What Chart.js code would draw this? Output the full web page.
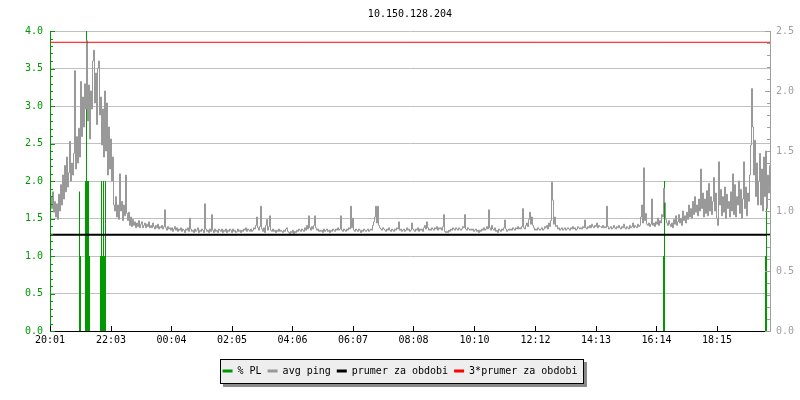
<!DOCTYPE html>
<html>
<head>
<meta charset="utf-8">
<script src="https://cdn.jsdelivr.net/npm/chart.js@4/dist/chart.umd.min.js"></script>
<style>
  html, body { margin: 0; padding: 0; background: #ffffff; }
  #wrap { width: 800px; height: 400px; }
</style>
</head>
<body>
<div id="wrap"><canvas id="c" width="800" height="400"></canvas></div>
<script>
// ---------------- DATA ----------------
const chartTitle = '10.150.128.204';
const seriesNames = ['% PL', 'avg ping', 'prumer za obdobi', '3*prumer za obdobi'];

// x axis: minutes since 20:01, tick labels
const timeLabels = ['20:01', '22:03', '00:04', '02:05', '04:06', '06:07', '08:08', '10:10', '12:12', '14:13', '16:14', '18:15'];
const tickMinutes = [0, 122, 243, 364, 485, 606, 727, 849, 971, 1092, 1213, 1334];
const periodMinutes = 1440;

// left axis (% PL) and right axis (avg ping, ms)
const plAxisMax = 4;
const pingAxisMax = 2.5;

// packet loss (%), stepped series: value holds from each minute mark until the next
const plMinutes = [0, 58, 60, 62, 70, 72, 74, 78, 80, 100, 102, 104, 106, 108, 110, 112, 1226, 1228, 1230, 1430, 1432, 1434, 1440];
const plPercent = [0, 1.86, 1.0, 0, 2.0, 5.0, 2.0, 1.0, 0, 1.0, 2.0, 1.0, 2.0, 1.0, 2.0, 0, 1.0, 2.0, 0, 1.0, 1.72, 0, 0];

// avg ping (ms), one sample every 2 minutes
const pingStepMinutes = 2;
const pingAvgMs = [
  1.12, 1.02, 1.16, 0.99, 1.08, 0.95, 1.06, 0.93, 1.14, 1.00,
  1.22, 1.05, 1.30, 1.10, 1.38, 1.16, 1.45, 1.20, 1.32, 1.58,
  1.25, 1.40, 1.30, 1.48, 2.17, 1.35, 1.62, 1.40, 1.69, 1.45,
  2.08, 1.62, 1.95, 1.70, 2.06, 1.85, 2.42, 1.75, 2.05, 1.60,
  2.00, 1.85, 2.25, 2.34, 1.90, 2.15, 1.72, 2.19, 2.25, 1.80,
  1.95, 1.55, 1.85, 1.45, 2.00, 1.50, 1.90, 1.30, 1.70, 1.35,
  1.60, 1.25, 1.45, 1.05, 1.00, 1.12, 0.95, 1.05, 0.93, 1.31,
  1.00, 1.08, 0.92, 1.05, 0.96, 1.30, 0.98, 0.92, 0.99, 0.88,
  0.95, 0.87, 0.93, 0.88, 0.91, 0.86, 0.90, 0.87, 0.92, 0.86,
  0.89, 0.91, 0.86, 0.88, 0.90, 0.86, 0.89, 0.87, 0.91, 0.86,
  0.88, 0.86, 0.90, 0.87, 0.85, 0.88, 0.86, 0.89, 0.85, 0.87,
  0.86, 0.88, 0.85, 0.87, 1.01, 0.86, 0.84, 0.87, 0.85, 0.86,
  0.84, 0.86, 0.83, 0.85, 0.87, 0.84, 0.86, 0.83, 0.85, 0.84,
  0.86, 0.83, 0.85, 0.84, 0.82, 0.85, 0.84, 0.86, 0.83, 0.94,
  0.85, 0.83, 0.84, 0.82, 0.85, 0.83, 0.84, 0.86, 0.82, 0.84,
  0.83, 0.85, 0.84, 0.82, 1.06, 0.85, 0.83, 0.84, 0.82, 0.85,
  0.83, 0.97, 0.84, 0.82, 0.85, 0.83, 0.84, 0.82, 0.85, 0.84,
  0.83, 0.85, 0.82, 0.84, 0.83, 0.85, 0.82, 0.84, 0.83, 0.85,
  0.84, 0.82, 0.85, 0.83, 0.84, 0.82, 0.83, 0.85, 0.83, 0.84,
  0.82, 0.84, 0.83, 0.85, 0.84, 0.86, 0.83, 0.85, 0.84, 0.83,
  0.85, 0.83, 0.84, 0.86, 0.85, 0.88, 0.95, 0.86, 0.84, 0.87,
  1.04, 0.85, 0.83, 0.86, 0.82, 0.88, 0.93, 0.84, 0.87, 0.96,
  0.84, 0.83, 0.85, 0.83, 0.84, 0.82, 0.84, 0.83, 0.85, 0.83,
  0.84, 0.83, 0.82, 0.84, 0.83, 0.85, 0.86, 0.83, 0.82, 0.81,
  0.83, 0.82, 0.84, 0.81, 0.83, 0.82, 0.84, 0.83, 0.85, 0.84,
  0.83, 0.85, 0.84, 0.83, 0.86, 0.84, 0.88, 0.85, 0.96, 0.86,
  0.84, 0.87, 0.85, 0.88, 0.96, 0.86, 0.84, 0.85, 0.83, 0.84,
  0.83, 0.84, 0.82, 0.85, 0.83, 0.84, 0.85, 0.83, 0.84, 0.82,
  0.84, 0.83, 0.85, 0.84, 0.83, 0.85, 0.84, 0.86, 0.84, 0.85,
  0.96, 0.84, 0.83, 0.85, 0.84, 0.83, 0.85, 0.84, 0.86, 0.85,
  1.04, 0.86, 0.94, 0.84, 0.83, 0.85, 0.84, 0.83, 0.85, 0.84,
  0.82, 0.84, 0.83, 0.85, 0.84, 0.83, 0.84, 0.85, 0.83, 0.84,
  0.85, 0.84, 0.88, 0.91, 0.95, 1.04, 0.90, 1.04, 0.88, 0.86,
  0.85, 0.84, 0.86, 0.85, 0.84, 0.83, 0.85, 0.84, 0.86, 0.84,
  0.83, 0.85, 0.84, 0.83, 0.85, 0.84, 0.86, 0.85, 0.91, 0.84,
  0.85, 0.83, 0.84, 0.85, 0.83, 0.84, 0.86, 0.84, 0.85, 0.83,
  0.84, 0.90, 0.85, 0.84, 0.83, 0.85, 0.84, 0.86, 0.83, 0.85,
  0.84, 0.85, 0.83, 0.86, 0.88, 0.85, 0.91, 0.86, 0.84, 0.85,
  0.84, 0.86, 0.85, 0.84, 0.86, 0.85, 0.87, 0.84, 0.86, 0.85,
  0.86, 0.84, 0.87, 0.97, 0.83, 0.82, 0.83, 0.82, 0.84, 0.83,
  0.85, 0.84, 0.86, 0.85, 0.84, 0.86, 0.85, 0.84, 0.86, 0.85,
  0.84, 0.85, 0.87, 0.86, 0.97, 0.85, 0.84, 0.86, 0.85, 0.84,
  0.85, 0.84, 0.85, 0.83, 0.84, 0.85, 0.83, 0.84, 0.82, 0.84,
  0.83, 0.85, 0.84, 0.86, 0.84, 0.85, 0.87, 0.85, 1.01, 0.86,
  0.84, 0.88, 0.85, 0.84, 0.86, 0.83, 0.84, 0.82, 0.85, 0.84,
  0.83, 0.85, 0.84, 0.86, 0.925, 0.85, 0.83, 0.84, 0.85, 0.84,
  0.85, 0.84, 0.86, 0.85, 0.84, 0.86, 0.85, 0.87, 0.85, 0.86,
  0.85, 0.87, 1.02, 0.86, 0.85, 0.88, 0.90, 0.87, 0.93, 0.99,
  0.89, 0.95, 0.88, 0.86, 0.84, 0.85, 0.84, 0.86, 0.85, 0.84,
  0.85, 0.86, 0.84, 0.85, 0.87, 0.86, 0.88, 0.85, 0.90, 0.87,
  0.92, 1.24, 1.09, 0.89, 0.95, 0.87, 0.88, 0.85, 0.86, 0.84,
  0.85, 0.86, 0.84, 0.85, 0.86, 0.84, 0.85, 0.86, 0.85, 0.84,
  0.86, 0.85, 0.87, 0.85, 0.86, 0.84, 0.85, 0.87, 0.86, 0.85,
  0.86, 0.85, 0.87, 0.86, 0.925, 0.86, 0.85, 0.87, 0.86, 0.88,
  0.86, 0.89, 0.87, 0.86, 0.88, 0.87, 0.90, 0.86, 0.88, 0.87,
  0.87, 0.86, 0.88, 0.86, 0.87, 0.86, 1.04, 0.87, 0.85, 0.86,
  0.87, 0.85, 0.86, 0.88, 0.86, 0.85, 0.87, 0.86, 0.88, 0.86,
  0.85, 0.87, 0.86, 0.89, 0.86, 0.85, 0.87, 0.86, 0.85, 0.88,
  0.86, 0.87, 0.90, 0.86, 0.88, 0.87, 0.86, 0.89, 0.87, 0.88,
  0.95, 1.05, 0.90, 1.36, 0.92, 0.98, 0.89, 0.88, 0.90, 0.87,
  0.89, 1.10, 0.88, 0.90, 0.87, 0.91, 0.89, 0.94, 0.88, 0.92,
  0.90, 0.97, 0.95, 1.19, 1.07, 0.93, 0.90, 0.88, 0.92, 0.89,
  0.87, 0.90, 0.86, 0.93, 0.89, 0.96, 0.88, 0.91, 0.97, 0.90,
  0.94, 0.88, 1.00, 0.92, 0.96, 0.90, 0.99, 0.93, 1.05, 0.95,
  1.02, 0.94, 1.08, 0.97, 1.12, 0.99, 1.05, 0.96, 1.10, 1.00,
  1.35, 1.02, 1.15, 0.95, 1.10, 0.98, 1.17, 0.96, 1.23, 1.00,
  1.12, 0.97, 1.08, 1.28, 1.00, 1.15, 0.94, 0.88, 1.41, 1.05,
  1.18, 0.96, 1.12, 0.99, 1.20, 0.94, 1.14, 1.02, 1.08, 0.95,
  1.16, 1.00, 1.31, 0.97, 1.22, 0.95, 1.12, 1.05, 1.25, 0.98,
  1.18, 0.94, 1.10, 1.41, 1.02, 1.20, 0.96, 1.15, 1.08, 1.30,
  1.55, 2.02, 1.70, 1.30, 1.59, 1.12, 1.40, 1.05, 1.25, 1.48,
  1.05, 1.35, 1.00, 1.45, 1.12, 1.50, 1.02, 1.30, 1.15, 1.38
];

// period mean and 3x mean (ms)
const meanPingMs = 0.802;
const tripleMeanPingMs = 2.406;

// ---------------- STYLE ----------------
const COL = {
  pl: '#009900',
  plAxis: '#009900',
  ping: '#999999',
  pingAxis: '#a0a0a0',
  mean: '#000000',
  triple: '#ff0000',
  grid: '#c0c0c0'
};
const legendColors = [COL.pl, COL.ping, COL.mean, COL.triple];

Chart.defaults.font.family = "'DejaVu Sans Mono', 'Liberation Mono', monospace";
Chart.defaults.font.size = 10;
Chart.defaults.color = '#000000';

// ---------------- BUILD ----------------
const plPoints = plMinutes.map((m, i) => ({ x: m, y: plPercent[i] }));
const pingPoints = pingAvgMs.map((v, i) => ({ x: i * pingStepMinutes + pingStepMinutes / 2, y: v }));
const meanPoints = [{ x: 0, y: meanPingMs }, { x: periodMinutes, y: meanPingMs }];
const triplePoints = [{ x: 0, y: tripleMeanPingMs }, { x: periodMinutes, y: tripleMeanPingMs }];

const axisTicks = {
  id: 'axisTicks',
  afterDatasetsDraw(chart) {
    const { ctx, chartArea: a, scales } = chart;
    ctx.save();
    ctx.lineWidth = 1;
    // left axis ticks (inward)
    ctx.strokeStyle = COL.plAxis;
    ctx.beginPath();
    for (let k = 0; k <= plAxisMax * 10; k++) {
      const y = Math.round(scales.yPL.getPixelForValue(k / 10)) + 0.5;
      const len = (k % 5 === 0) ? 5 : 3;
      ctx.moveTo(a.left, y); ctx.lineTo(a.left + len, y);
    }
    ctx.stroke();
    // right axis ticks (inward)
    ctx.strokeStyle = COL.pingAxis;
    ctx.beginPath();
    for (let k = 0; k <= pingAxisMax * 10; k++) {
      const y = Math.round(scales.yPing.getPixelForValue(k / 10)) + 0.5;
      const len = (k % 5 === 0) ? 5 : 3;
      ctx.moveTo(a.right, y); ctx.lineTo(a.right - len, y);
    }
    ctx.stroke();
    // x axis ticks (upward)
    ctx.strokeStyle = '#000000';
    ctx.beginPath();
    tickMinutes.forEach(m => {
      const x = Math.floor(scales.x.getPixelForValue(m)) + 0.5;
      ctx.moveTo(x, a.bottom); ctx.lineTo(x, a.bottom - 5);
    });
    ctx.stroke();
    ctx.restore();
  }
};

const legendFrame = {
  id: 'legendFrame',
  beforeDraw(chart) {
    const lg = chart.legend;
    if (!lg || !lg.legendHitBoxes || !lg.legendHitBoxes.length) return;
    const hb = lg.legendHitBoxes;
    const last = hb[hb.length - 1];
    const l = Math.round(hb[0].left) - 3;
    const r = Math.round(last.left + last.width) + 6;
    const t = Math.round(hb[0].top) - 7;
    const b = Math.round(hb[0].top) + 17;
    const ctx = chart.ctx;
    ctx.save();
    ctx.fillStyle = '#8a8a8a';
    ctx.fillRect(l + 3, t + 3, r - l + 1, b - t + 1);
    ctx.fillStyle = '#eeeeee';
    ctx.fillRect(l, t, r - l, b - t);
    ctx.strokeStyle = '#000000';
    ctx.lineWidth = 1;
    ctx.strokeRect(l + 0.5, t + 0.5, r - l, b - t);
    ctx.restore();
  }
};

new Chart(document.getElementById('c'), {
  type: 'line',
  data: {
    datasets: [
      {
        label: seriesNames[0], data: plPoints, yAxisID: 'yPL',
        stepped: true, fill: 'origin', backgroundColor: COL.pl,
        borderColor: 'rgba(0,0,0,0)', borderWidth: 1, pointRadius: 0, order: 3
      },
      {
        label: seriesNames[1], data: pingPoints, yAxisID: 'yPing', stepped: true,
        borderColor: COL.ping, borderWidth: 1, pointRadius: 0, tension: 0, fill: false, order: 2
      },
      {
        label: seriesNames[2], data: meanPoints, yAxisID: 'yPing',
        borderColor: COL.mean, borderWidth: 2, pointRadius: 0, fill: false, order: 1
      },
      {
        label: seriesNames[3], data: triplePoints, yAxisID: 'yPing',
        borderColor: COL.triple, borderWidth: 1, pointRadius: 0, fill: false, order: 0
      }
    ]
  },
  options: {
    responsive: false,
    animation: false,
    devicePixelRatio: 1,
    events: [],
    layout: { padding: { top: 0, left: 0, right: 0, bottom: 14 } },
    plugins: {
      title: {
        display: true, text: chartTitle, color: '#000000', fullSize: false,
        font: { size: 10, weight: 'normal' }, padding: { top: 8, bottom: 11 }
      },
      legend: {
        display: true, position: 'bottom',
        labels: {
          boxWidth: 10, boxHeight: 3, padding: 6, color: '#000000',
          font: { size: 10 },
          generateLabels: (chart) => chart.data.datasets.map((ds, i) => ({
            text: ds.label, fillStyle: legendColors[i], strokeStyle: legendColors[i],
            lineWidth: 0, hidden: false, datasetIndex: i, fontColor: '#000000'
          }))
        }
      },
      tooltip: { enabled: false }
    },
    scales: {
      x: {
        type: 'linear', position: 'bottom', min: 0, max: periodMinutes,
        grid: { display: false, drawTicks: false },
        border: { display: true, color: '#000000', width: 1 },
        afterBuildTicks: (s) => { s.ticks = tickMinutes.map(v => ({ value: v })); },
        afterFit: (s) => { s.height = 29; },
        ticks: {
          autoSkip: false, maxRotation: 0, minRotation: 0, padding: 3, color: '#000000',
          callback: (v, i) => timeLabels[i]
        }
      },
      yPL: {
        type: 'linear', position: 'left', min: 0, max: plAxisMax,
        grid: { color: COL.grid, drawTicks: false },
        border: { display: true, color: COL.plAxis, width: 1 },
        afterFit: (s) => { s.width = 50; },
        ticks: { stepSize: 0.5, padding: 7, color: COL.plAxis, callback: (v) => Number(v).toFixed(1) }
      },
      yPing: {
        type: 'linear', position: 'right', min: 0, max: pingAxisMax,
        grid: { display: false, drawTicks: false },
        border: { display: true, color: COL.pingAxis, width: 1 },
        afterFit: (s) => { s.width = 30; },
        ticks: { stepSize: 0.5, padding: 6, color: COL.pingAxis, callback: (v) => Number(v).toFixed(1) }
      }
    }
  },
  plugins: [legendFrame, axisTicks]
});
</script>
</body>
</html>
